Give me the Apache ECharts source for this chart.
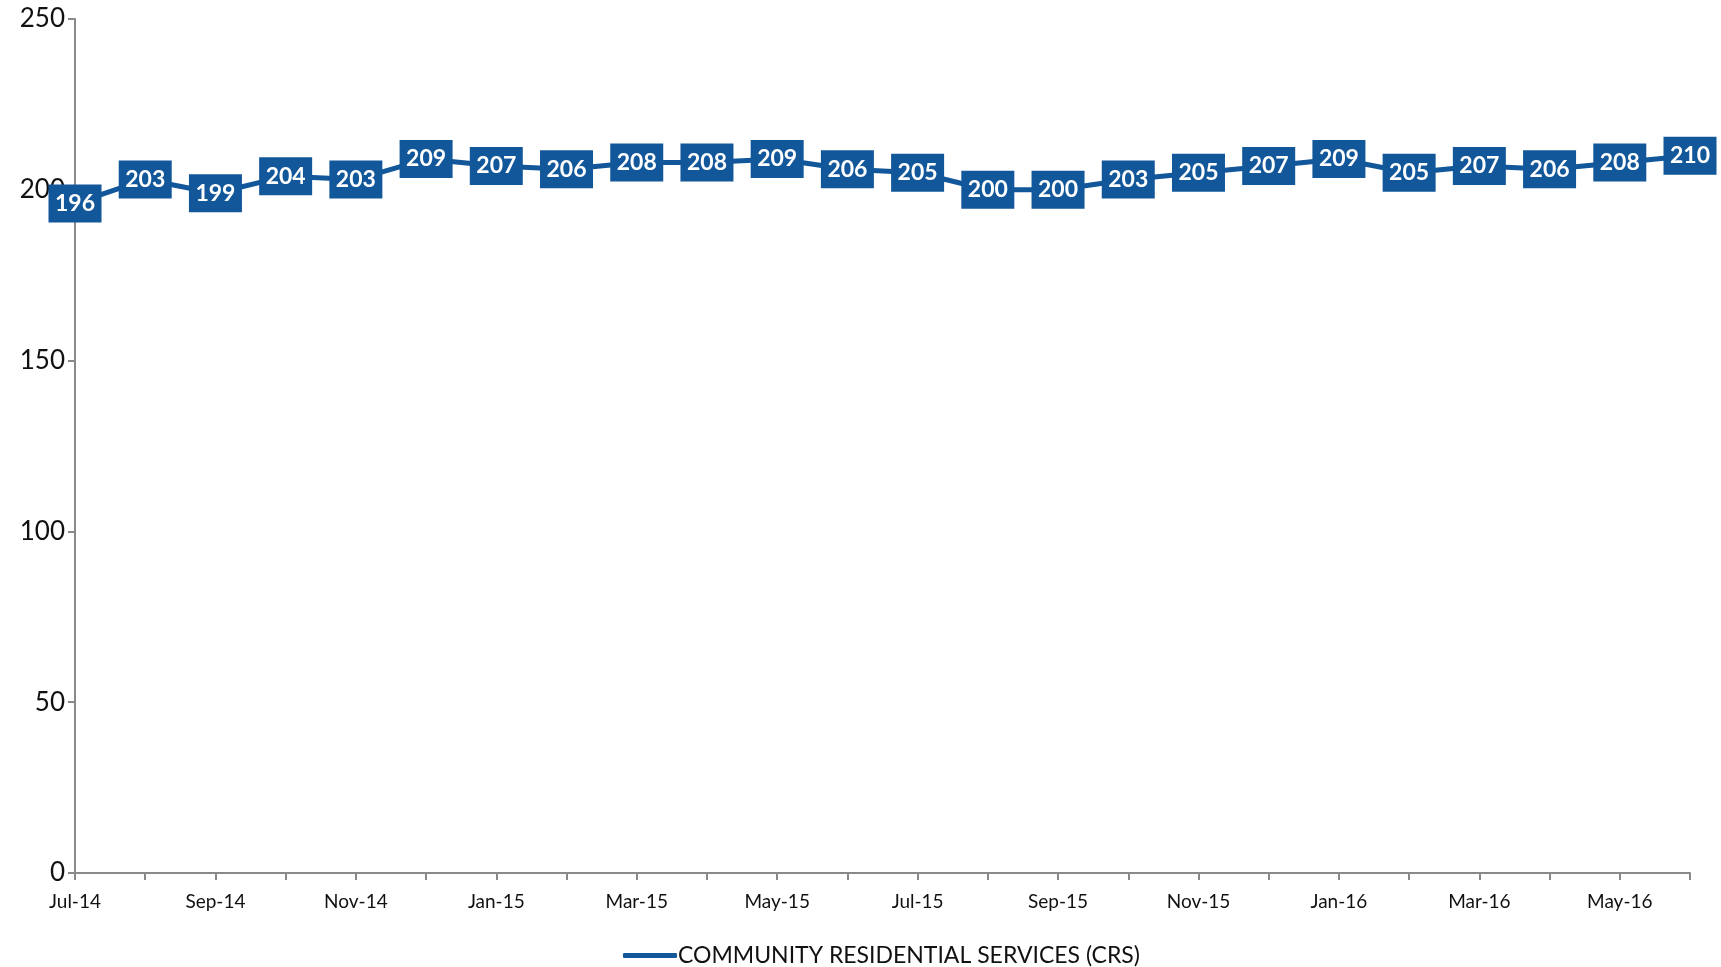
<!DOCTYPE html>
<html><head><meta charset="utf-8">
<script src="https://cdn.jsdelivr.net/npm/echarts@6/dist/echarts.min.js"></script>
<style>html,body{margin:0;padding:0;background:#fff}#c{width:1721px;height:967px}</style>
</head><body><div id="c"></div>
<script>
const categories = ['Jul-14','Aug-14','Sep-14','Oct-14','Nov-14','Dec-14','Jan-15','Feb-15','Mar-15','Apr-15','May-15','Jun-15','Jul-15','Aug-15','Sep-15','Oct-15','Nov-15','Dec-15','Jan-16','Feb-16','Mar-16','Apr-16','May-16','Jun-16'];
const crsValues = [196,203,199,204,203,209,207,206,208,208,209,206,205,200,200,203,205,207,209,205,207,206,208,210];
const seriesName = 'COMMUNITY RESIDENTIAL SERVICES (CRS)';
const yTicks = [0,50,100,150,200,250];

const blue = '#12579a';
const chart = echarts.init(document.getElementById('c'));
chart.setOption({
  animation:false,
  grid:{left:75,right:31,top:19,bottom:94,containLabel:false},
  legend:{bottom:-5,left:618,icon:'roundRect',itemWidth:54,itemHeight:5,itemGap:2,
    textStyle:{fontFamily:'Lato',fontSize:23,color:'#111',padding:[0,0,0,-4]},data:[seriesName]},
  xAxis:{type:'category',data:categories,boundaryGap:false,
    axisLine:{lineStyle:{color:'#898989',width:2}},
    axisTick:{show:true,length:7,lineStyle:{color:'#898989',width:2},interval:0},
    axisLabel:{interval:1,color:'#111',fontFamily:'Lato',fontSize:19,margin:19}},
  yAxis:{type:'value',min:0,max:250,interval:50,
    axisLine:{show:true,lineStyle:{color:'#898989',width:2}},
    axisTick:{show:true,length:7,lineStyle:{color:'#898989',width:2}},
    splitLine:{show:false},
    axisLabel:{color:'#111',fontFamily:'Lato',fontSize:26,margin:10,
      formatter:v=>yTicks.includes(v)?String(v):''}},
  series:[{name:seriesName,type:'line',data:crsValues,
    lineStyle:{color:blue,width:5},itemStyle:{color:blue},
    symbol:'rect',symbolSize:[53,38],
    label:{show:true,position:'inside',color:'#fff',fontFamily:'Lato',fontWeight:'bold',fontSize:23}}]
});
</script></body></html>
